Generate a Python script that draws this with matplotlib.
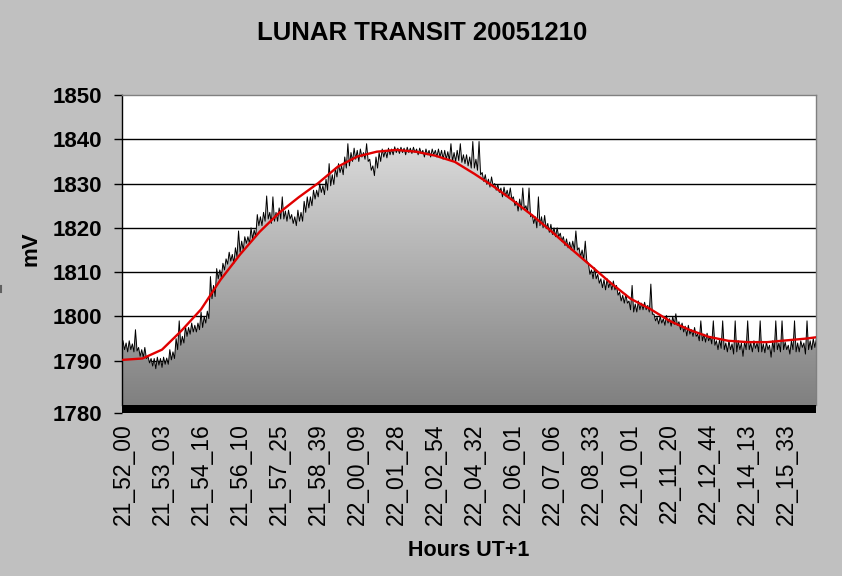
import numpy as np
import matplotlib
matplotlib.use("Agg")
import matplotlib.pyplot as plt
import matplotlib.transforms as mtransforms
from matplotlib.colors import LinearSegmentedColormap
from matplotlib.patches import Rectangle
from matplotlib.lines import Line2D

plt.rcParams['font.family'] = ['Liberation Sans', 'DejaVu Sans']

# ---------------- data ----------------
title = "LUNAR TRANSIT 20051210"
x_title = "Hours UT+1"
y_title = "mV"

time_labels = ['21_52_00', '21_53_03', '21_54_16', '21_56_10', '21_57_25', '21_58_39',
               '22_00_09', '22_01_28', '22_02_54', '22_04_32', '22_06_01', '22_07_06',
               '22_08_33', '22_10_01', '22_11_20', '22_12_44', '22_14_13', '22_15_33']
samples_per_label = 100

y_ticks = [1780, 1790, 1800, 1810, 1820, 1830, 1840, 1850]

# measured signal (mV): local high and low readings, one pair every 8 samples
block_step = 8
signal_hi = [
    1794.5, 1794.0, 1794.5, 1793.8, 1797.0, 1793.0, 1792.5, 1793.0, 1791.0, 1790.5,
    1790.5, 1790.8, 1790.5, 1790.8, 1790.6, 1792.5, 1792.0, 1795.0, 1799.0, 1795.5,
    1797.8, 1797.5, 1798.5, 1798.0, 1798.5, 1801.0, 1800.0, 1801.2, 1809.0, 1807.0,
    1810.8, 1810.5, 1812.0, 1813.0, 1814.5, 1814.0, 1815.5, 1819.3, 1817.0, 1818.0,
    1818.0, 1820.0, 1819.5, 1823.0, 1822.5, 1823.5, 1827.2, 1823.5, 1827.0, 1823.5,
    1824.5, 1827.0, 1823.8, 1824.0, 1823.0, 1822.5, 1824.0, 1823.5, 1826.0, 1827.0,
    1827.0, 1828.5, 1828.5, 1830.0, 1829.5, 1831.0, 1834.5, 1832.0, 1833.5, 1834.5,
    1834.0, 1836.0, 1839.0, 1837.0, 1838.0, 1837.5, 1837.8, 1837.0, 1839.0, 1835.5,
    1834.0, 1836.0, 1837.0, 1837.8, 1837.5, 1838.0, 1837.8, 1838.3, 1838.0, 1838.2,
    1838.0, 1838.2, 1838.0, 1838.2, 1837.8, 1838.0, 1837.5, 1837.8, 1837.5, 1837.8,
    1837.5, 1837.8, 1837.5, 1837.5, 1837.2, 1839.0, 1837.0, 1837.5, 1839.0, 1836.5,
    1836.5, 1836.0, 1839.5, 1835.5, 1839.5, 1832.5, 1832.0, 1831.0, 1831.5, 1830.0,
    1829.8, 1829.0, 1829.2, 1828.5, 1829.0, 1827.0, 1826.0, 1826.5, 1829.0, 1825.0,
    1829.0, 1823.0, 1822.5, 1827.0, 1822.5, 1822.8, 1821.0, 1820.8, 1820.0, 1820.0,
    1818.8, 1818.0, 1817.5, 1816.8, 1817.0, 1819.3, 1815.5, 1815.0, 1817.0, 1812.0,
    1810.5, 1811.0, 1809.5, 1808.5, 1808.3, 1808.5, 1807.8, 1808.0, 1807.0, 1805.5,
    1804.8, 1805.0, 1803.5, 1807.0, 1802.8, 1803.5, 1803.0, 1803.2, 1802.5, 1807.3,
    1800.5, 1799.8, 1800.0, 1799.5, 1800.2, 1799.5, 1800.0, 1800.6, 1798.8, 1798.5,
    1797.8, 1798.0, 1797.0, 1797.5, 1796.0, 1799.0, 1796.0, 1796.2, 1795.5, 1799.0,
    1794.5, 1794.8, 1799.0, 1794.0, 1794.5, 1793.8, 1799.0, 1794.5, 1794.0, 1794.3,
    1799.0, 1794.0, 1794.5, 1794.0, 1799.0, 1793.8, 1794.2, 1793.5, 1794.5, 1799.0,
    1794.0, 1799.0, 1794.2, 1793.5, 1794.5, 1799.0, 1794.0, 1794.5, 1794.0, 1799.0,
    1794.5, 1795.0, 1795.0,
]
signal_lo = [
    1792.5, 1792.0, 1792.5, 1792.0, 1792.2, 1791.0, 1790.8, 1790.5, 1789.5, 1788.8,
    1788.2, 1789.0, 1788.5, 1789.2, 1789.2, 1790.2, 1790.5, 1792.5, 1793.5, 1794.0,
    1795.5, 1796.0, 1796.5, 1796.5, 1797.0, 1797.5, 1798.5, 1799.5, 1804.0, 1804.5,
    1808.5, 1808.8, 1810.5, 1811.8, 1812.5, 1812.0, 1813.5, 1814.5, 1815.0, 1816.5,
    1816.5, 1817.5, 1818.0, 1820.5, 1820.5, 1821.5, 1822.0, 1821.0, 1821.5, 1821.5,
    1822.0, 1822.0, 1821.5, 1822.0, 1821.0, 1820.5, 1821.5, 1821.5, 1823.5, 1824.5,
    1825.0, 1826.5, 1827.0, 1828.0, 1827.5, 1828.5, 1829.5, 1829.8, 1831.5, 1832.5,
    1832.0, 1833.5, 1834.0, 1835.0, 1835.5, 1835.0, 1836.0, 1835.5, 1835.0, 1833.0,
    1831.8, 1833.5, 1835.0, 1836.0, 1835.8, 1836.5, 1836.5, 1837.0, 1836.8, 1837.0,
    1836.5, 1837.0, 1836.8, 1837.0, 1836.5, 1836.8, 1836.0, 1836.5, 1836.0, 1836.5,
    1836.0, 1836.0, 1835.5, 1835.5, 1835.2, 1835.0, 1835.0, 1835.2, 1834.8, 1834.5,
    1834.0, 1833.5, 1833.5, 1833.0, 1832.0, 1830.5, 1829.8, 1829.2, 1829.5, 1828.5,
    1828.0, 1827.0, 1827.2, 1826.8, 1826.5, 1825.0, 1823.8, 1824.0, 1824.2, 1823.5,
    1822.5, 1821.0, 1820.0, 1820.5, 1820.0, 1819.8, 1819.0, 1818.5, 1818.0, 1818.0,
    1817.0, 1816.0, 1815.5, 1815.0, 1815.0, 1815.0, 1813.5, 1812.8, 1812.5, 1809.5,
    1808.5, 1808.5, 1807.5, 1806.5, 1806.0, 1806.5, 1806.0, 1806.0, 1804.8, 1803.5,
    1803.0, 1803.0, 1801.5, 1801.0, 1801.0, 1801.5, 1801.5, 1801.5, 1801.0, 1800.5,
    1799.0, 1798.3, 1798.5, 1798.0, 1798.5, 1797.8, 1798.2, 1798.0, 1797.0, 1796.5,
    1795.6, 1796.0, 1795.5, 1795.5, 1794.5, 1794.5, 1794.2, 1794.5, 1793.8, 1793.5,
    1792.5, 1792.8, 1792.5, 1792.0, 1792.5, 1791.5, 1792.0, 1792.5, 1791.0, 1792.5,
    1792.5, 1792.0, 1792.8, 1792.0, 1792.0, 1791.8, 1792.5, 1790.8, 1792.0, 1792.5,
    1792.0, 1792.5, 1792.5, 1791.5, 1792.5, 1792.0, 1792.0, 1793.0, 1791.5, 1792.5,
    1792.5, 1793.0, 1793.5,
]

# fitted curve (mV) sampled along the run
fit_samples = [0, 50, 100, 150, 200, 250, 300, 350, 400, 450, 500, 550, 600, 650, 700,
               750, 800, 850, 900, 950, 1000, 1050, 1100, 1150, 1200, 1250, 1300, 1350,
               1400, 1450, 1500, 1550, 1600, 1650, 1700, 1750, 1776]
fit_mv = [1790.2, 1790.5, 1792.5, 1796.8, 1801.6, 1808.3, 1814.0, 1819.1, 1823.4, 1826.9,
          1830.1, 1833.8, 1836.1, 1837.2, 1837.6, 1837.2, 1836.3, 1834.9, 1832.2, 1829.3,
          1826.1, 1822.7, 1819.0, 1815.1, 1811.3, 1807.5, 1804.0, 1801.7, 1799.0, 1797.0,
          1795.4, 1794.5, 1794.2, 1794.2, 1794.6, 1795.0, 1795.3]

# ---------------- figure ----------------
W, H = 842, 576
fig = plt.figure(figsize=(W / 100, H / 100), dpi=100, facecolor='#C0C0C0')
ax = fig.add_axes([122 / W, 1 - 405 / H, 694 / W, 310 / H])
ax.set_facecolor('white')

n = len(signal_hi)
x_sig = np.empty(2 * n)
y_sig = np.empty(2 * n)
x_sig[0::2] = np.arange(n) * block_step
x_sig[1::2] = np.arange(n) * block_step + block_step / 2
y_sig[0::2] = signal_hi
y_sig[1::2] = signal_lo

ymin, ymax = 1780, 1850
xmin, xmax = -2.5, 1775
ax.set_xlim(xmin, xmax)
ax.set_ylim(ymin, ymax)

# gridlines
for yv in y_ticks[1:-1]:
    ax.axhline(yv, color='black', lw=1.0, zorder=0.5)

# gradient area under signal
poly = ax.fill_between(x_sig, ymin, y_sig, facecolor='none', edgecolor='none', zorder=1)
cmap = LinearSegmentedColormap.from_list('g', ['#808080', '#EBEBEB'])
grad = np.linspace(0, 1, 256).reshape(-1, 1)
im = ax.imshow(grad, cmap=cmap, origin='lower', aspect='auto',
               extent=[xmin, xmax, ymin, ymax], zorder=1, interpolation='bilinear')
im.set_clip_path(poly.get_paths()[0], transform=ax.transData)

# signal line and fit
ax.plot(x_sig, y_sig, color='black', lw=0.7, zorder=2)
ax.plot(fit_samples, fit_mv, color='#E00000', lw=1.7, zorder=3, solid_capstyle='round')

# spines
ax.spines['left'].set_color('black')
ax.spines['left'].set_linewidth(1.0)
for s in ('top', 'right'):
    ax.spines[s].set_color('#808080')
    ax.spines[s].set_linewidth(1.0)
ax.spines['bottom'].set_visible(False)

# thick black bar along the bottom (category axis)
ax.add_patch(Rectangle((0, 0), 1, -8 / 310, transform=ax.transAxes,
                       facecolor='black', edgecolor='none', clip_on=False, zorder=4))

# ticks
ax.set_yticks(y_ticks)
ax.set_yticklabels([str(v) for v in y_ticks], fontsize=16, fontweight='bold')
ax.tick_params(axis='y', direction='out', length=5.5, width=1, color='black', pad=8.5)
label_pos = [i * samples_per_label for i in range(len(time_labels))]
ax.set_xticks(label_pos)
ax.set_xticklabels(time_labels, rotation=90, fontsize=16.5)
ax.tick_params(axis='x', length=0, pad=13)

# shift the 1780 tick to the bottom of the black bar
off = mtransforms.ScaledTranslation(0, -8 / 100, fig.dpi_scale_trans)
t0 = ax.yaxis.get_major_ticks()[0]
t0.label1.set_transform(t0.label1.get_transform() + off)
t0.tick1line.set_transform(t0.tick1line.get_transform() + off)

# texts
fig.text(422 / W, 1 - 33 / H, title, ha='center', va='center',
         fontsize=18.5, fontweight='bold')
fig.text(31 / W, 1 - 249 / H, y_title, ha='center', va='center', rotation=90,
         fontsize=16, fontweight='bold')
fig.text(469 / W, 1 - 550 / H, x_title, ha='center', va='center',
         fontsize=15.5, fontweight='bold')

# small clipped mark at the left edge
fig.add_artist(Line2D([0.8 / W, 0.8 / W], [1 - 286 / H, 1 - 292 / H],
                      color='#606060', lw=1.5, transform=fig.transFigure))

fig.savefig('out.png', dpi=100, facecolor=fig.get_facecolor())
